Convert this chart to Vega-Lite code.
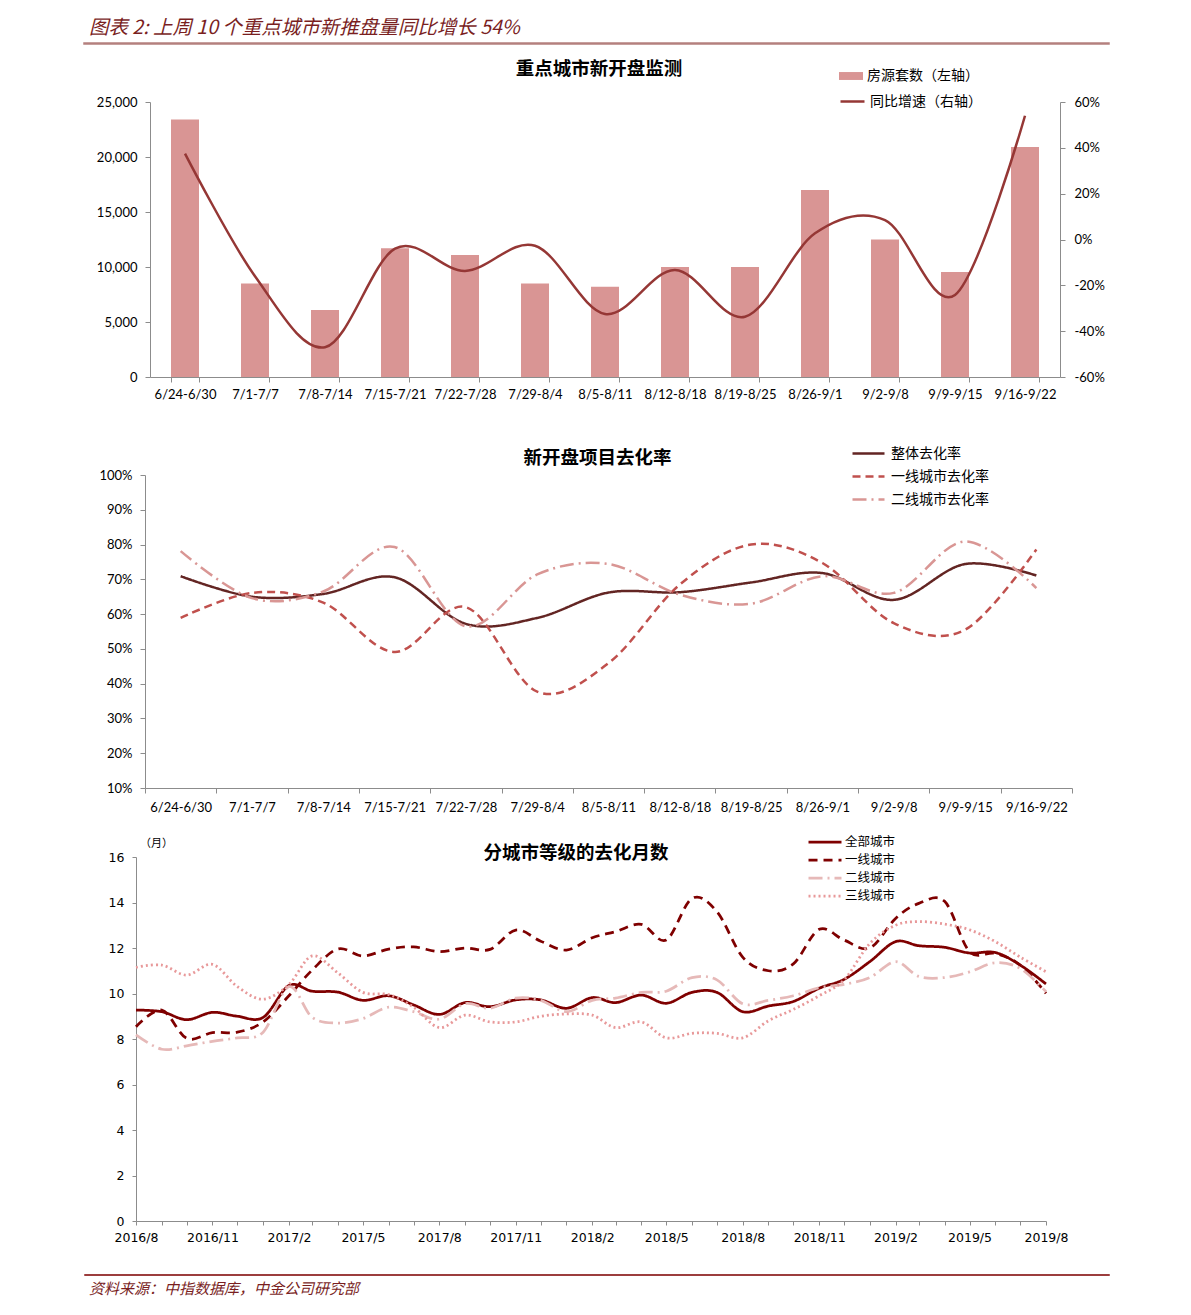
{
  "$schema": "https://vega.github.io/schema/vega-lite/v6.json",
  "background": "white",
  "padding": {"left": 83, "top": 17, "right": 10, "bottom": 10},
  "config": {
    "font": "Noto Sans CJK SC",
    "view": {"stroke": null},
    "axis": {"labelFont": "Lato", "labelFontSize": 13, "labelColor": "#000000", "domainColor": "#8C8C8C", "tickColor": "#8C8C8C", "domainWidth": 1, "tickWidth": 1, "tickSize": 5, "grid": false, "labelPadding": 8},
    "legend": {"labelFont": "Noto Sans CJK SC", "labelColor": "#000000"},
    "title": {"font": "Noto Sans CJK SC", "color": "#000000"}
  },
  "columns": 1,
  "spacing": 43,
  "resolve": {
    "scale": {"color": "independent", "strokeDash": "independent", "strokeWidth": "independent", "fill": "independent", "stroke": "independent"},
    "legend": {"color": "independent", "strokeDash": "independent", "strokeWidth": "independent", "fill": "independent", "stroke": "independent"}
  },
  "concat": [
    {
      "columns": 1,
      "spacing": 9,
      "resolve": {
        "scale": {"color": "independent", "strokeDash": "independent", "strokeWidth": "independent", "fill": "independent", "stroke": "independent"},
        "legend": {"color": "independent", "strokeDash": "independent", "strokeWidth": "independent", "fill": "independent", "stroke": "independent"}
      },
      "concat": [
        {
          "width": 1025,
          "height": 1,
          "view": {"stroke": "#B4807E", "strokeWidth": 1.5},
          "title": {"text": "图表 2: 上周 10 个重点城市新推盘量同比增长 54%", "anchor": "start", "fontSize": 19.5, "fontStyle": "italic", "fontWeight": "normal", "color": "#7A1F1F", "offset": -1, "dx": 5},
          "data": {"values": [{"t": ""}]},
          "mark": {"type": "text"},
          "encoding": {"text": {"field": "t", "type": "nominal"}}
        },
        {
          "spacing": 0,
          "resolve": {
            "scale": {"fill": "independent", "stroke": "independent"},
            "legend": {"fill": "independent", "stroke": "independent"}
          },
          "hconcat": [
            {
              "width": 10,
              "height": 1,
              "data": {"values": [{"t": ""}]},
              "mark": {"type": "text"},
              "encoding": {"text": {"field": "t", "type": "nominal"}}
            },
            {
              "width": 910,
              "height": 275,
              "title": {"text": "重点城市新开盘监测", "fontSize": 18.5, "fontWeight": "bold", "dx": -6, "offset": -14},
              "data": {"values": [
                {"week": "6/24-6/30", "count": 23400, "yoy": 0.375},
                {"week": "7/1-7/7", "count": 8500, "yoy": -0.16},
                {"week": "7/8-7/14", "count": 6100, "yoy": -0.47},
                {"week": "7/15-7/21", "count": 11700, "yoy": -0.04},
                {"week": "7/22-7/28", "count": 11100, "yoy": -0.137},
                {"week": "7/29-8/4", "count": 8500, "yoy": -0.027},
                {"week": "8/5-8/11", "count": 8200, "yoy": -0.325},
                {"week": "8/12-8/18", "count": 10000, "yoy": -0.133},
                {"week": "8/19-8/25", "count": 10000, "yoy": -0.337},
                {"week": "8/26-9/1", "count": 17000, "yoy": 0.027},
                {"week": "9/2-9/8", "count": 12500, "yoy": 0.085},
                {"week": "9/9-9/15", "count": 9550, "yoy": -0.242},
                {"week": "9/16-9/22", "count": 20900, "yoy": 0.54}
              ]},
              "encoding": {
                "x": {"field": "week", "type": "nominal", "sort": null, "title": null,
                      "scale": {"type": "band", "paddingInner": 0.6, "paddingOuter": 0.3},
                      "axis": {"labelAngle": 0, "tickBand": "extent", "labelPadding": 6}}
              },
              "layer": [
                {
                  "mark": {"type": "bar"},
                  "encoding": {
                    "y": {"field": "count", "type": "quantitative", "title": null,
                          "scale": {"domain": [0, 25000], "nice": false},
                          "axis": {"values": [0, 5000, 10000, 15000, 20000, 25000], "format": ",d", "minExtent": 56, "labelPadding": 8}},
                    "fill": {"datum": "房源套数（左轴）", "type": "nominal", "scale": {"range": ["#D99594"]},
                             "legend": {"orient": "none", "legendX": 689, "legendY": -38, "title": null, "symbolType": "M-1,-0.33H1V0.33H-1Z", "symbolSize": 576, "symbolStrokeWidth": 0, "labelFontSize": 14, "labelOffset": 4}}
                  }
                },
                {
                  "mark": {"type": "line", "interpolate": "cardinal", "strokeWidth": 2.5},
                  "encoding": {
                    "y": {"field": "yoy", "type": "quantitative", "title": null,
                          "scale": {"domain": [-0.6, 0.6], "nice": false},
                          "axis": {"orient": "right", "values": [-0.6, -0.4, -0.2, 0, 0.2, 0.4, 0.6], "format": ".0%", "labelExpr": "replace(datum.label, '\u2212', '-')", "labelPadding": 9}},
                    "stroke": {"datum": "同比增速（右轴）", "type": "nominal", "scale": {"range": ["#953735"]},
                               "legend": {"orient": "none", "legendX": 689, "legendY": -14, "title": null, "symbolType": "stroke", "symbolSize": 576, "symbolStrokeWidth": 2.5, "labelFontSize": 14, "labelOffset": 4}}
                  }
                }
              ],
              "resolve": {"scale": {"y": "independent"}}
            }
          ]
        }
      ]
    },
    {
      "columns": 1,
      "spacing": 18,
      "resolve": {
        "scale": {"color": "independent", "strokeDash": "independent", "strokeWidth": "independent", "fill": "independent", "stroke": "independent"},
        "legend": {"color": "independent", "strokeDash": "independent", "strokeWidth": "independent", "fill": "independent", "stroke": "independent"}
      },
      "concat": [
        {
          "spacing": 0,
          "resolve": {
            "scale": {"color": "independent", "strokeDash": "independent"},
            "legend": {"color": "independent", "strokeDash": "independent"}
          },
          "hconcat": [
            {
              "width": 10,
              "height": 1,
              "data": {"values": [{"t": ""}]},
              "mark": {"type": "text"},
              "encoding": {"text": {"field": "t", "type": "nominal"}}
            },
            {
              "width": 927,
              "height": 313,
              "title": {"text": "新开盘项目去化率", "fontSize": 18.5, "fontWeight": "bold", "dx": -11, "offset": -23},
              "data": {"values": [
                {"week": "6/24-6/30", "整体去化率": 0.709, "一线城市去化率": 0.589, "二线城市去化率": 0.781},
                {"week": "7/1-7/7", "整体去化率": 0.65, "一线城市去化率": 0.661, "二线城市去化率": 0.646},
                {"week": "7/8-7/14", "整体去化率": 0.658, "一线城市去化率": 0.633, "二线城市去化率": 0.665},
                {"week": "7/15-7/21", "整体去化率": 0.706, "一线城市去化率": 0.491, "二线城市去化率": 0.793},
                {"week": "7/22-7/28", "整体去化率": 0.572, "一线城市去化率": 0.62, "二线城市去化率": 0.565},
                {"week": "7/29-8/4", "整体去化率": 0.589, "一线城市去化率": 0.377, "二线城市去化率": 0.714},
                {"week": "8/5-8/11", "整体去化率": 0.662, "一线城市去化率": 0.459, "二线城市去化率": 0.744},
                {"week": "8/12-8/18", "整体去化率": 0.663, "一线城市去化率": 0.685, "二线城市去化率": 0.656},
                {"week": "8/19-8/25", "整体去化率": 0.691, "一线城市去化率": 0.8, "二线城市去化率": 0.63},
                {"week": "8/26-9/1", "整体去化率": 0.718, "一线城市去化率": 0.747, "二线城市去化率": 0.709},
                {"week": "9/2-9/8", "整体去化率": 0.641, "一线城市去化率": 0.574, "二线城市去化率": 0.661},
                {"week": "9/9-9/15", "整体去化率": 0.744, "一线城市去化率": 0.555, "二线城市去化率": 0.809},
                {"week": "9/16-9/22", "整体去化率": 0.711, "一线城市去化率": 0.786, "二线城市去化率": 0.675}
              ]},
              "transform": [{"fold": ["整体去化率", "一线城市去化率", "二线城市去化率"], "as": ["series", "rate"]}],
              "mark": {"type": "line", "interpolate": "cardinal", "strokeWidth": 2.5},
              "encoding": {
                "x": {"field": "week", "type": "nominal", "sort": null, "title": null,
                      "scale": {"type": "band", "paddingInner": 0, "paddingOuter": 0},
                      "axis": {"labelAngle": 0, "tickBand": "extent", "labelPadding": 8}},
                "y": {"field": "rate", "type": "quantitative", "title": null,
                      "scale": {"domain": [0.1, 1], "nice": false},
                      "axis": {"values": [0.1, 0.2, 0.3, 0.4, 0.5, 0.6, 0.7, 0.8, 0.9, 1.0], "format": ".0%", "minExtent": 51}},
                "color": {"field": "series", "type": "nominal",
                          "scale": {"domain": ["整体去化率", "一线城市去化率", "二线城市去化率"], "range": ["#632523", "#C0504D", "#D99694"]},
                          "legend": {"orient": "none", "legendX": 714, "legendY": -31, "title": null, "symbolType": "M-2,0H2", "symbolSize": 256, "symbolStrokeWidth": 2.5, "labelFontSize": 14, "labelOffset": 13, "rowPadding": 6}},
                "strokeDash": {"field": "series", "type": "nominal",
                          "scale": {"domain": ["整体去化率", "一线城市去化率", "二线城市去化率"], "range": [[1, 0], [8, 5], [14, 5, 2, 5]]},
                          "legend": {"orient": "none", "legendX": 714, "legendY": -31, "title": null, "symbolType": "M-2,0H2", "symbolSize": 256, "symbolStrokeWidth": 2.5, "labelFontSize": 14, "labelOffset": 13, "rowPadding": 6}}
              }
            }
          ]
        },
        {
          "columns": 1,
          "spacing": 24,
          "resolve": {
            "scale": {"color": "independent", "strokeDash": "independent", "strokeWidth": "independent", "fill": "independent", "stroke": "independent"},
            "legend": {"color": "independent", "strokeDash": "independent", "strokeWidth": "independent", "fill": "independent", "stroke": "independent"}
          },
          "concat": [
            {
              "spacing": 0,
              "resolve": {
                "scale": {"color": "independent", "strokeDash": "independent", "strokeWidth": "independent"},
                "legend": {"color": "independent", "strokeDash": "independent", "strokeWidth": "independent"}
              },
              "hconcat": [
                {
                  "width": 10,
                  "height": 1,
                  "data": {"values": [{"t": ""}]},
                  "mark": {"type": "text"},
                  "encoding": {"text": {"field": "t", "type": "nominal"}}
                },
                {
                  "width": 910,
                  "height": 364,
                  "title": {"text": "分城市等级的去化月数", "fontSize": 18.5, "fontWeight": "bold", "dx": -15, "offset": -30},
                  "data": {"values": [
                    {"m": "2016/08/01", "全部城市": 9.27, "一线城市": 8.54, "二线城市": 8.18, "三线城市": 11.15},
                    {"m": "2016/09/01", "全部城市": 9.2, "一线城市": 9.27, "二线城市": 7.55, "三线城市": 11.25},
                    {"m": "2016/10/01", "全部城市": 8.85, "一线城市": 8.03, "二线城市": 7.7, "三线城市": 10.81},
                    {"m": "2016/11/01", "全部城市": 9.17, "一线城市": 8.28, "二线城市": 7.9, "三线城市": 11.28},
                    {"m": "2016/12/01", "全部城市": 9.0, "一线城市": 8.3, "二线城市": 8.05, "三线城市": 10.3},
                    {"m": "2017/01/01", "全部城市": 8.95, "一线城市": 8.75, "二线城市": 8.3, "三线城市": 9.75},
                    {"m": "2017/02/01", "全部城市": 10.35, "一线城市": 9.9, "二线城市": 10.3, "三线城市": 10.4},
                    {"m": "2017/03/01", "全部城市": 10.1, "一线城市": 11.03, "二线城市": 8.95, "三线城市": 11.65},
                    {"m": "2017/04/01", "全部城市": 10.06, "一线城市": 11.96, "二线城市": 8.7, "三线城市": 10.9},
                    {"m": "2017/05/01", "全部城市": 9.7, "一线城市": 11.65, "二线城市": 8.9, "三线城市": 10.05},
                    {"m": "2017/06/01", "全部城市": 9.9, "一线城市": 11.95, "二线城市": 9.4, "三线城市": 9.95},
                    {"m": "2017/07/01", "全部城市": 9.5, "一线城市": 12.05, "二线城市": 9.2, "三线城市": 9.4},
                    {"m": "2017/08/01", "全部城市": 9.08, "一线城市": 11.84, "二线城市": 8.87, "三线城市": 8.5},
                    {"m": "2017/09/01", "全部城市": 9.6, "一线城市": 12.0, "二线城市": 9.55, "三线城市": 9.05},
                    {"m": "2017/10/01", "全部城市": 9.42, "一线城市": 11.94, "二线城市": 9.35, "三线城市": 8.75},
                    {"m": "2017/11/01", "全部城市": 9.72, "一线城市": 12.79, "二线城市": 9.8, "三线城市": 8.75},
                    {"m": "2017/12/01", "全部城市": 9.72, "一线城市": 12.3, "二线城市": 9.7, "三线城市": 9.0},
                    {"m": "2018/01/01", "全部城市": 9.35, "一线城市": 11.91, "二线城市": 9.2, "三线城市": 9.1},
                    {"m": "2018/02/01", "全部城市": 9.82, "一线城市": 12.45, "二线城市": 9.7, "三线城市": 9.05},
                    {"m": "2018/03/01", "全部城市": 9.6, "一线城市": 12.72, "二线城市": 9.8, "三线城市": 8.5},
                    {"m": "2018/04/01", "全部城市": 9.93, "一线城市": 13.04, "二线城市": 10.05, "三线城市": 8.75},
                    {"m": "2018/05/01", "全部城市": 9.57, "一线城市": 12.35, "二线城市": 10.1, "三线城市": 8.05},
                    {"m": "2018/06/01", "全部城市": 10.05, "一线城市": 14.18, "二线城市": 10.7, "三线城市": 8.25},
                    {"m": "2018/07/01", "全部城市": 10.05, "一线城市": 13.6, "二线城市": 10.6, "三线城市": 8.25},
                    {"m": "2018/08/01", "全部城市": 9.2, "一线城市": 11.6, "二线城市": 9.55, "三线城市": 8.05},
                    {"m": "2018/09/01", "全部城市": 9.45, "一线城市": 11.0, "二线城市": 9.7, "三线城市": 8.8},
                    {"m": "2018/10/01", "全部城市": 9.65, "一线城市": 11.3, "二线城市": 9.9, "三线城市": 9.3},
                    {"m": "2018/11/01", "全部城市": 10.23, "一线城市": 12.82, "二线城市": 10.25, "三线城市": 9.9},
                    {"m": "2018/12/01", "全部城市": 10.62, "一线城市": 12.35, "二线城市": 10.4, "三线城市": 10.6},
                    {"m": "2019/01/01", "全部城市": 11.4, "一线城市": 12.0, "二线城市": 10.7, "三线城市": 12.2},
                    {"m": "2019/02/01", "全部城市": 12.28, "一线城市": 13.3, "二线城市": 11.4, "三线城市": 13.0},
                    {"m": "2019/03/01", "全部城市": 12.1, "一线城市": 13.96, "二线城市": 10.75, "三线城市": 13.16},
                    {"m": "2019/04/01", "全部城市": 12.03, "一线城市": 14.05, "二线城市": 10.7, "三线城市": 13.05},
                    {"m": "2019/05/01", "全部城市": 11.78, "一线城市": 11.84, "二线城市": 10.95, "三线城市": 12.8},
                    {"m": "2019/06/01", "全部城市": 11.8, "一线城市": 11.76, "二线城市": 11.35, "三线城市": 12.28},
                    {"m": "2019/07/01", "全部城市": 11.25, "一线城市": 11.25, "二线城市": 11.1, "三线城市": 11.6},
                    {"m": "2019/08/01", "全部城市": 10.42, "一线城市": 10.01, "二线城市": 10.08, "三线城市": 10.96}
                  ]},
                  "transform": [{"fold": ["全部城市", "一线城市", "二线城市", "三线城市"], "as": ["series", "v"]}],
                  "mark": {"type": "line", "interpolate": "cardinal"},
                  "encoding": {
                    "x": {"field": "m", "type": "temporal", "title": null,
                          "scale": {"domain": [{"year": 2016, "month": 8, "date": 1}, {"year": 2019, "month": 8, "date": 1}], "nice": false},
                          "axis": {"tickCount": {"interval": "month", "step": 1}, "labelExpr": "month(datum.value) % 3 == 1 ? timeFormat(datum.value, '%Y/%-m') : ''", "labelOverlap": false, "labelFont": "DejaVu Sans", "labelFontSize": 12.5, "tickSize": 4, "labelPadding": 6, "labelFlush": false}},
                    "y": {"field": "v", "type": "quantitative", "title": "（月）",
                          "scale": {"domain": [0, 16], "nice": false},
                          "axis": {"values": [0, 2, 4, 6, 8, 10, 12, 14, 16], "minExtent": 42, "labelFont": "DejaVu Sans", "labelFontSize": 12.5, "tickSize": 4, "titleAngle": 0, "titleX": 20, "titleY": -14, "titleAlign": "center", "titleBaseline": "middle", "titleFontSize": 11, "titleFontWeight": "normal", "titleFont": "Noto Sans CJK SC", "titleColor": "#000000"}},
                    "color": {"field": "series", "type": "nominal",
                              "scale": {"domain": ["全部城市", "一线城市", "二线城市", "三线城市"], "range": ["#7F0000", "#7F0000", "#E6B9B8", "#E8999A"]},
                              "legend": {"orient": "none", "legendX": 679, "legendY": -25, "title": null, "symbolType": "M-2,0H2", "symbolSize": 272, "symbolStrokeWidth": 2.5, "labelFontSize": 12.5, "labelOffset": 10, "rowPadding": 1}},
                    "strokeDash": {"field": "series", "type": "nominal",
                              "scale": {"domain": ["全部城市", "一线城市", "二线城市", "三线城市"], "range": [[1, 0], [9, 6], [14, 5, 2, 5], [2, 3]]},
                              "legend": {"orient": "none", "legendX": 679, "legendY": -25, "title": null, "symbolType": "M-2,0H2", "symbolSize": 272, "symbolStrokeWidth": 2.5, "labelFontSize": 12.5, "labelOffset": 10, "rowPadding": 1}},
                    "strokeWidth": {"field": "series", "type": "nominal",
                              "scale": {"domain": ["全部城市", "一线城市", "二线城市", "三线城市"], "range": [2.75, 2.75, 3, 2]},
                              "legend": null}
                  }
                }
              ]
            },
            {
              "width": 1025,
              "height": 1,
              "view": {"stroke": "#9C3D3D", "strokeWidth": 1},
              "title": {"text": "资料来源：中指数据库，中金公司研究部", "orient": "bottom", "anchor": "start", "fontSize": 15, "fontStyle": "italic", "fontWeight": "normal", "color": "#7A1F1F", "offset": 2, "dx": 5},
              "data": {"values": [{"t": ""}]},
              "mark": {"type": "text"},
              "encoding": {"text": {"field": "t", "type": "nominal"}}
            }
          ]
        }
      ]
    }
  ]
}
